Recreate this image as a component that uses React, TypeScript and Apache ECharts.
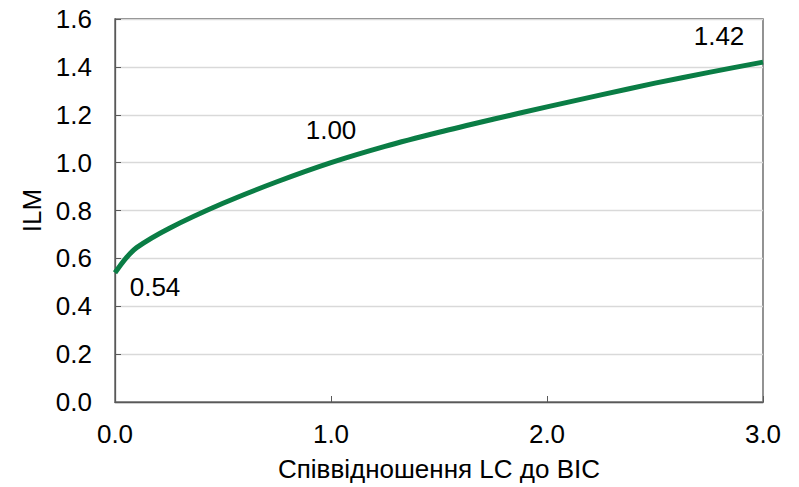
import React, { useEffect, useRef } from "react";
import * as echarts from "echarts";

const ratioX = [0, 0.05, 0.1, 0.25, 0.5, 0.75, 1.0, 1.25, 1.5, 1.75, 2.0, 2.25, 2.5, 2.75, 3.0];
const ilmValues = [0.54, 0.6, 0.645, 0.725, 0.83, 0.92, 1.0, 1.068, 1.127, 1.181, 1.233, 1.283, 1.332, 1.377, 1.42];
const labelX = [0, 1.0, 3.0];
const labelValues = [0.54, 1.0, 1.42];
const labelOffsets = [
  [40, 14],
  [0, -33],
  [-44, -26],
];

const FONT = "'Liberation Sans', Arial, sans-serif";
const FS = 26;

export default function App() {
  const ref = useRef<HTMLDivElement>(null);
  useEffect(() => {
    if (!ref.current) return;
    const chart = echarts.init(ref.current, undefined, { renderer: "svg" });
    chart.setOption({
      animation: false,
      backgroundColor: "#ffffff",
      textStyle: { fontFamily: FONT },
      grid: {
        left: 115,
        right: 36,
        top: 19,
        bottom: 83,
        show: true,
        borderColor: "#595959",
        borderWidth: 1.3,
        backgroundColor: "transparent",
      },
      xAxis: {
        type: "value",
        min: 0,
        max: 3,
        interval: 1,
        name: "Співвідношення LC до BIC",
        nameLocation: "middle",
        nameGap: 54,
        nameTextStyle: { fontSize: FS, color: "#000", fontFamily: FONT },
        axisLine: { show: true, lineStyle: { color: "#595959", width: 1.3 } },
        axisTick: { show: true, inside: true, length: 6, lineStyle: { color: "#595959" } },
        axisLabel: {
          fontSize: FS,
          color: "#000",
          margin: 19,
          fontFamily: FONT,
          formatter: (v: number) => v.toFixed(1),
        },
        splitLine: { show: false },
      },
      yAxis: {
        type: "value",
        min: 0,
        max: 1.6,
        interval: 0.2,
        name: "ILM",
        nameLocation: "middle",
        nameGap: 69,
        nameRotate: 90,
        nameTextStyle: { fontSize: FS, color: "#000", fontFamily: FONT },
        axisLine: { show: true, lineStyle: { color: "#595959", width: 1.3 } },
        axisTick: { show: true, inside: true, length: 6, lineStyle: { color: "#595959" } },
        axisLabel: {
          fontSize: FS,
          color: "#000",
          margin: 23,
          fontFamily: FONT,
          formatter: (v: number) => v.toFixed(1),
        },
        splitLine: { show: true, lineStyle: { color: "#d9d9d9", width: 1.3 } },
      },
      series: [
        {
          type: "line",
          data: ratioX.map((x, i) => [x, ilmValues[i]]),
          smooth: 0.3,
          showSymbol: false,
          symbol: "none",
          lineStyle: { color: "#0a7d45", width: 5 },
          z: 3,
        },
        {
          type: "scatter",
          symbolSize: 1,
          itemStyle: { color: "rgba(0,0,0,0)" },
          clip: false,
          silent: true,
          z: 4,
          data: labelX.map((x, i) => ({
            value: [x, labelValues[i]],
            label: {
              show: true,
              position: "inside",
              offset: labelOffsets[i],
              formatter: (p: any) => p.value[1].toFixed(2),
              fontSize: FS,
              color: "#000000",
              opacity: 1,
              textBorderWidth: 0,
              fontFamily: FONT,
            },
          })),
        },
      ],
    });
    return () => chart.dispose();
  }, []);
  return (
    <div
      ref={ref}
      style={{ position: "fixed", left: 0, top: 0, width: 799, height: 487, background: "#fff" }}
    />
  );
}
